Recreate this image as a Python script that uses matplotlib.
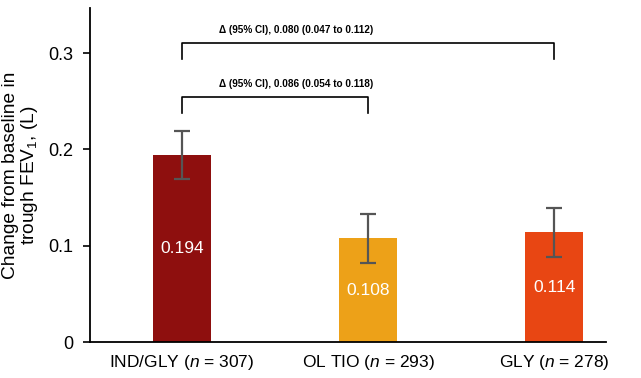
import matplotlib
matplotlib.use("Agg")
import matplotlib.pyplot as plt

plt.rcParams['font.family'] = ['Liberation Sans', 'DejaVu Sans']
plt.rcParams['mathtext.fontset'] = 'custom'
plt.rcParams['mathtext.rm'] = 'Liberation Sans'
plt.rcParams['mathtext.it'] = 'Liberation Sans:italic'

categories = ["IND/GLY ($\\it{n}$ = 307)", "OL TIO ($\\it{n}$ = 293)", "GLY ($\\it{n}$ = 278)"]
values = [0.194, 0.108, 0.114]
err_low = [0.025, 0.026, 0.026]
err_high = [0.025, 0.025, 0.025]
colors = ["#8E0F0E", "#EDA118", "#E84613"]
brackets = [
    (0, 2, 0.311, "Δ (95% CI), 0.080 (0.047 to 0.112)"),
    (0, 1, 0.255, "Δ (95% CI), 0.086 (0.054 to 0.118)"),
]

fig = plt.figure(figsize=(6.41, 3.78), dpi=100)
ax = fig.add_axes([0.140, 0.095, 0.806, 0.884])

x = list(range(len(categories)))
ax.bar(x, values, width=0.31, color=colors, zorder=2)
ax.errorbar(x, values, yerr=[err_low, err_high], fmt='none', ecolor='#555555',
            elinewidth=1.6, capsize=5.5, capthick=1.6, zorder=3)
for xi, v in zip(x, values):
    ax.text(xi, v / 2, f"{v:.3f}", color='white', ha='center', va='center', fontsize=12.5, zorder=4)

for a, b, h, label in brackets:
    ax.plot([a, a, b, b], [h - 0.017, h, h, h - 0.017], color='black', lw=1.2, clip_on=False)
    ax.text(a + 0.2, h + 0.008, label, ha='left', va='bottom', fontsize=7.2, fontweight='bold')

ax.set_xlim(-0.495, 2.28)
ax.set_ylim(0, 0.347)
ax.set_yticks([0, 0.1, 0.2, 0.3])
ax.set_yticklabels(["0", "0.1", "0.2", "0.3"])
ax.set_xticks(x)
ax.set_xticklabels(categories)
ax.tick_params(axis='x', length=0, labelsize=12.5, pad=8)
ax.tick_params(axis='y', length=5, width=1.2, labelsize=13, direction='out', pad=7)
ax.spines['top'].set_visible(False)
ax.spines['right'].set_visible(False)
ax.spines['left'].set_linewidth(1.3)
ax.spines['bottom'].set_linewidth(1.3)
ax.set_ylabel("Change from baseline in\ntrough FEV$_1$, (L)", fontsize=13.8, labelpad=6, linespacing=1.0)

fig.savefig("out.png", dpi=100)
